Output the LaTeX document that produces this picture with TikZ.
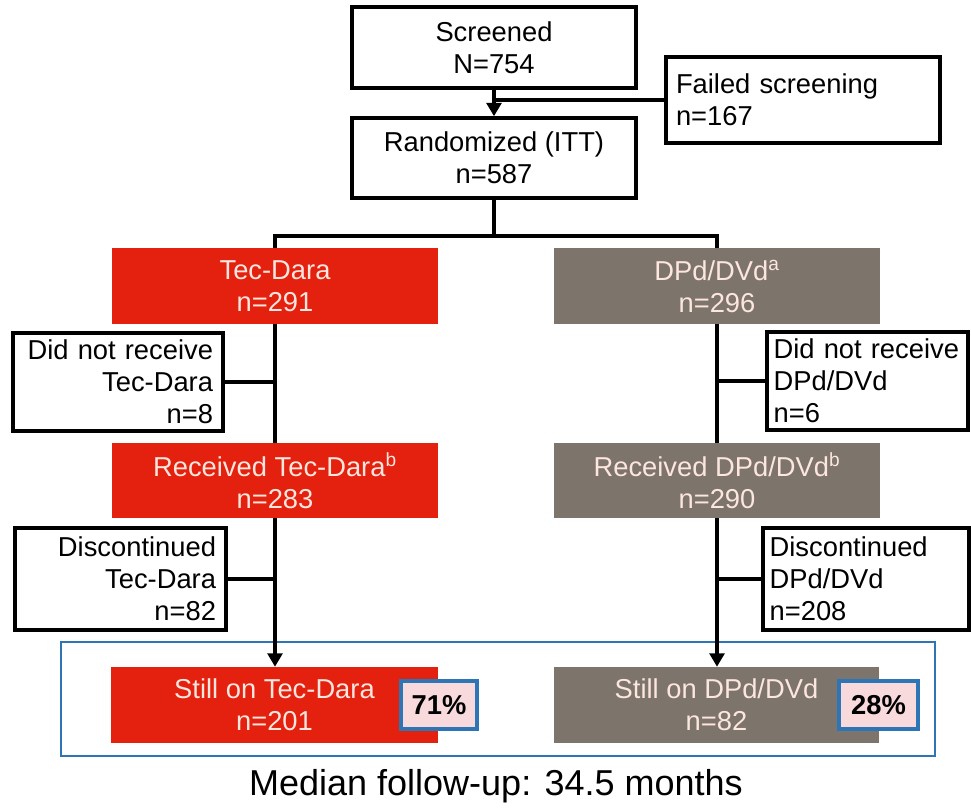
\documentclass[tikz,border=0pt]{standalone}
\usepackage{fontspec}
\setmainfont{Liberation Sans}
\usetikzlibrary{arrows.meta}
\definecolor{tdred}{RGB}{228,32,14}
\definecolor{dpgrey}{RGB}{125,116,108}
\definecolor{lighttext}{RGB}{252,230,222}
\definecolor{frameblue}{RGB}{46,117,182}
\definecolor{pctfill}{RGB}{248,218,220}
\begin{document}
\begin{tikzpicture}[x=0.75pt,y=-0.75pt,
  base/.style={inner sep=0pt, font=\fontsize{20.5}{24}\selectfont, align=center},
  wbox/.style={base, draw=black, line width=2.6pt, fill=white},
  redbox/.style={base, fill=tdred, text=lighttext, minimum width=244.5pt, minimum height=57pt},
  greybox/.style={base, fill=dpgrey, text=lighttext, minimum width=244.5pt, minimum height=57pt},
  sidebox/.style={wbox, inner xsep=7.5pt, minimum height=#1},
  pctbox/.style={base, draw=frameblue, line width=2.4pt, fill=pctfill, font=\fontsize{20.5}{24}\selectfont\bfseries, minimum height=36pt},
  conn/.style={line width=2.6pt, draw=black},
  arr/.style={conn, -{Triangle[length=10pt,width=11pt]}}
]
\useasboundingbox (0,0) rectangle (971,807);

% top
\node[wbox, minimum width=213pt, minimum height=60.75pt] (scr) at (494,47.5) {Screened\\N=754};
\node[sidebox=64.5pt, text width=190.5pt, align=left] (fail) at (803,100) {Failed screening\\n=167};
\node[wbox, minimum width=213pt, minimum height=60pt] (rand) at (494,158) {Randomized (ITT)\\n=587};

% arms
\node[redbox] (td) at (275,286) {Tec-Dara\\n=291};
\node[greybox] (dp) at (717,286) {DPd/DVd\textsuperscript{a}\\n=296};

\node[sidebox=73.5pt, text width=142.5pt, align=right] (dnrl) at (118,382) {Did not receive\\Tec-Dara\\n=8};
\node[sidebox=73.5pt, inner xsep=5pt, text width=140.75pt, align=left] (dnrr) at (867.5,381) {Did not receive\\DPd/DVd\\n=6};

\node[redbox, minimum height=56.25pt] (recl) at (275,480.5) {Received Tec-Dara\textsuperscript{b}\\n=283};
\node[greybox, minimum height=56.25pt] (recr) at (717,480.5) {Received DPd/DVd\textsuperscript{b}\\n=290};

\node[sidebox=76.5pt, text width=143.25pt, align=right] (discl) at (120.5,579) {Discontinued\\Tec-Dara\\n=82};
\node[sidebox=76.5pt, inner xsep=5pt, text width=144.5pt, align=left] (discr) at (866,579) {Discontinued\\DPd/DVd\\n=208};

% outcome frame
\node[draw=frameblue, line width=2pt, minimum width=655.5pt, minimum height=85.5pt, inner sep=0pt] (frame) at (498,699) {};
\node[redbox, minimum width=245.25pt] (stilll) at (274.5,705) {Still on Tec-Dara\\n=201};
\node[greybox, minimum width=243.75pt] (stillr) at (716.5,705) {Still on DPd/DVd\\n=82};
\node[pctbox, minimum width=57pt] (pctl) at (439,705) {71\%};
\node[pctbox, minimum width=59.25pt] (pctr) at (878.5,705) {28\%};

\node[base, font=\fontsize{27}{32}\selectfont] (median) at (496,786) {Median follow-up: 34.5 months};

% connectors
\coordinate (failjoin) at (scr.south |- fail.west);
\draw[arr] (scr.south) -- (rand.north);
\draw[conn] (fail.west) -- (failjoin);

\coordinate (split) at (494,236);
\draw[conn] (rand.south) -- (split);
\draw[conn] (td.north) |- (split) -| (dp.north);

\draw[conn] (td.south) -- (recl.north);
\draw[conn] (dnrl.east) -- (dnrl.east -| td.south);
\draw[conn] (dp.south) -- (recr.north);
\draw[conn] (dnrr.west) -- (dnrr.west -| dp.south);

\draw[arr] (recl.south) -- (recl.south |- stilll.north);
\draw[conn] (discl.east) -- (discl.east -| recl.south);
\draw[arr] (recr.south) -- (recr.south |- stillr.north);
\draw[conn] (discr.west) -- (discr.west -| recr.south);
\end{tikzpicture}
\end{document}
